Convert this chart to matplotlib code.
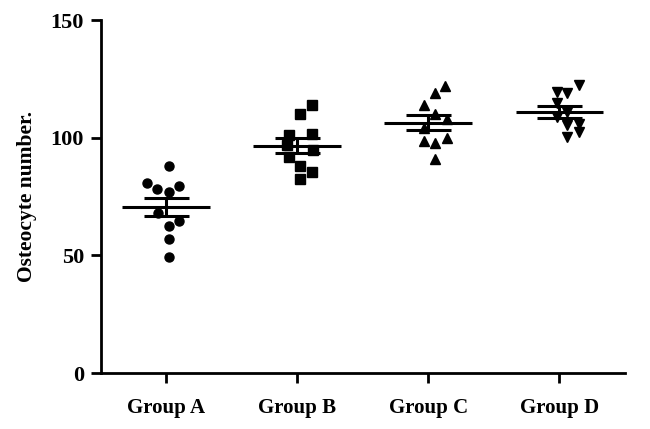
import numpy as np
import matplotlib
matplotlib.use("Agg")
import matplotlib.pyplot as plt

plt.rcParams["font.family"] = ["Liberation Serif", "DejaVu Serif"]
plt.rcParams["font.weight"] = "bold"

groups = ["Group A", "Group B", "Group C", "Group D"]

group_a = [88.0, 80.8, 79.5, 78.2, 76.9, 68.0, 64.6, 62.5, 57.0, 49.3]
group_b = [113.9, 110.0, 101.0, 101.6, 97.0, 95.0, 91.8, 88.0, 85.4, 82.4]
group_c = [122.0, 119.0, 113.9, 110.0, 108.0, 104.0, 99.9, 98.6, 97.7, 90.9]
group_d = [122.4, 119.4, 119.0, 114.7, 111.0, 109.0, 106.0, 105.4, 102.4, 100.3]

# horizontal scatter of the points
off_a = [0.0, -0.17, 0.08, -0.09, 0.0, -0.08, 0.08, 0.0, 0.0, 0.0]
off_b = [0.09, 0.0, -0.08, 0.09, -0.1, 0.1, -0.08, 0.0, 0.09, 0.0]
off_c = [0.11, 0.03, -0.05, 0.03, 0.12, -0.05, 0.12, -0.05, 0.03, 0.03]
off_d = [0.13, -0.04, 0.04, -0.04, 0.04, -0.04, 0.13, 0.04, 0.13, 0.04]

values = [group_a, group_b, group_c, group_d]
offsets = [off_a, off_b, off_c, off_d]
markers = ["o", "s", "^", "v"]

fig = plt.figure(figsize=(6.5, 4.29), dpi=100)
ax = fig.add_axes([0.155, 0.1305, 0.8065, 0.8225])

for i, (vals, offs, m) in enumerate(zip(values, offsets, markers)):
    vals = np.array(vals)
    xs = i + 0.02 + np.array(offs)
    ax.plot(xs, vals, linestyle="none", marker=m, color="k",
            markersize=6.5, zorder=3)
    mean = vals.mean()
    sem = vals.std(ddof=1) / np.sqrt(len(vals))
    ax.hlines(mean, i - 0.335, i + 0.335, color="k", lw=2.2, zorder=4)
    ax.hlines([mean - sem, mean + sem], i - 0.17, i + 0.17,
              color="k", lw=2.2, zorder=4)
    ax.vlines(i, mean - sem, mean + sem, color="k", lw=2.2, zorder=4)

ax.set_xlim(-0.5, 3.5)
ax.set_ylim(0, 150)
ax.set_yticks([0, 50, 100, 150])
ax.set_xticks(range(len(groups)))
ax.set_xticklabels(groups)

for side in ("top", "right"):
    ax.spines[side].set_visible(False)
for side in ("left", "bottom"):
    ax.spines[side].set_linewidth(2)

ax.tick_params(axis="both", width=2, length=7)
ax.tick_params(axis="y", labelsize=16, pad=5)
ax.tick_params(axis="x", labelsize=15, pad=11)
ax.set_ylabel("Osteocyte number.", fontsize=15.5, fontweight="bold",
              labelpad=10)

fig.savefig("out.png", dpi=100)
